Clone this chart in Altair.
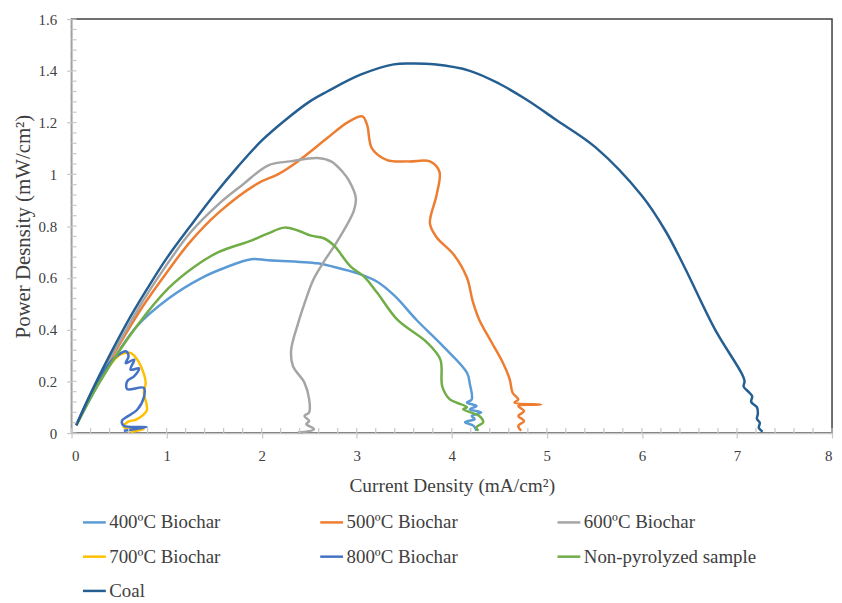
import altair as alt
import pandas as pd

# ---------------- data ----------------
series_names = ["400ºC Biochar", "500ºC Biochar", "600ºC Biochar",
                "700ºC Biochar", "800ºC Biochar", "Non-pyrolyzed sample", "Coal"]
series_colors = ["#5B9BD5", "#ED7D31", "#A5A5A5", "#FFC000", "#4472C4", "#70AD47", "#255E91"]

b400_x = [0.05, 0.3, 0.68, 1.02, 1.37, 1.62, 1.89, 2.07, 2.59, 2.76, 3.01, 3.22, 3.4, 3.63,
          3.91, 4.16, 4.19, 4.21, 4.16, 4.26, 4.19, 4.31, 4.21, 4.24, 4.14, 4.23, 4.26]
b400_y = [0.03, 0.2, 0.41, 0.52, 0.6, 0.64, 0.672, 0.668, 0.656, 0.642, 0.617, 0.584, 0.53, 0.437,
          0.335, 0.233, 0.19, 0.13, 0.118, 0.105, 0.092, 0.08, 0.066, 0.054, 0.042, 0.028, 0.009]

b500_x = [0.05, 0.25, 0.5, 0.75, 1.0, 1.25, 1.55, 1.96, 2.17, 2.38, 2.69, 2.9, 3.06, 3.11, 3.16, 3.32,
          3.55, 3.77, 3.87, 3.84, 3.77, 3.84, 4.02, 4.16, 4.22, 4.29, 4.42, 4.54, 4.61, 4.64, 4.7,
          4.66, 4.94, 4.7, 4.76, 4.7, 4.76, 4.7, 4.73]
b500_y = [0.03, 0.18, 0.34, 0.49, 0.62, 0.74, 0.853, 0.965, 1.0, 1.05, 1.14, 1.2, 1.224, 1.19, 1.1,
          1.055, 1.05, 1.05, 1.01, 0.92, 0.81, 0.757, 0.69, 0.6, 0.51, 0.437, 0.35, 0.27, 0.207,
          0.156, 0.13, 0.118, 0.11, 0.105, 0.085, 0.066, 0.047, 0.028, 0.009]

b600_x = [0.05, 0.25, 0.5, 0.75, 1.0, 1.25, 1.55, 1.8, 2.07, 2.3, 2.59, 2.73, 2.85, 2.92, 2.99, 2.97,
          2.8, 2.65, 2.54, 2.45, 2.38, 2.31, 2.33, 2.45, 2.5, 2.5, 2.45, 2.5, 2.47, 2.55, 2.38]
b600_y = [0.03, 0.185, 0.35, 0.51, 0.65, 0.775, 0.886, 0.96, 1.035, 1.05, 1.063, 1.05, 1.01, 0.975,
          0.91, 0.86, 0.744, 0.66, 0.59, 0.5, 0.42, 0.32, 0.258, 0.195, 0.13, 0.08, 0.066, 0.047,
          0.035, 0.015, 0.002]

b700_x = [0.05, 0.2, 0.33, 0.42, 0.52, 0.62, 0.68, 0.73, 0.78, 0.76, 0.79, 0.79, 0.69, 0.585,
          0.55, 0.76, 0.62]
b700_y = [0.03, 0.14, 0.22, 0.27, 0.305, 0.31, 0.29, 0.258, 0.195, 0.157, 0.11, 0.086, 0.054, 0.042,
          0.023, 0.015, 0.004]

b800_x = [0.05, 0.2, 0.35, 0.45, 0.57, 0.6, 0.57, 0.66, 0.62, 0.71, 0.66, 0.585, 0.585, 0.76, 0.76,
          0.69, 0.57, 0.53, 0.55, 0.79, 0.55]
b800_y = [0.03, 0.15, 0.245, 0.29, 0.316, 0.297, 0.27, 0.284, 0.245, 0.25, 0.22, 0.2, 0.17, 0.175,
          0.137, 0.09, 0.06, 0.047, 0.028, 0.023, 0.009]

np_x = [0.05, 0.3, 0.68, 1.02, 1.3, 1.55, 1.89, 2.07, 2.24, 2.38, 2.52, 2.66, 2.76, 2.94, 3.08, 3.22,
        3.43, 3.74, 3.88, 3.9, 3.98, 4.05, 4.16, 4.12, 4.29, 4.33, 4.26, 4.28]
np_y = [0.03, 0.2, 0.41, 0.56, 0.645, 0.7, 0.744, 0.772, 0.794, 0.783, 0.763, 0.752, 0.725, 0.642,
        0.604, 0.54, 0.437, 0.35, 0.284, 0.18, 0.13, 0.118, 0.1, 0.092, 0.066, 0.042, 0.023, 0.009]

coal_x = [0.05, 0.25, 0.45, 0.62, 0.8, 1.0, 1.25, 1.5, 1.75, 2.0, 2.25, 2.5, 2.69, 3.04, 3.39, 3.6,
          3.81, 4.19, 4.5, 4.78, 5.1, 5.51, 6.0, 6.25, 6.45, 6.77, 7.05, 7.08, 7.07, 7.12, 7.16, 7.15,
          7.21, 7.22, 7.21, 7.24, 7.23, 7.27]
coal_y = [0.03, 0.19, 0.335, 0.45, 0.56, 0.675, 0.8, 0.92, 1.03, 1.13, 1.21, 1.28, 1.32, 1.385,
          1.425, 1.428, 1.425, 1.40, 1.35, 1.29, 1.21, 1.105, 0.917, 0.78, 0.64, 0.40, 0.23, 0.2, 0.18,
          0.16, 0.143, 0.12, 0.10, 0.075, 0.055, 0.04, 0.02, 0.005]

series_x = [b400_x, b500_x, b600_x, b700_x, b800_x, np_x, coal_x]
series_y = [b400_y, b500_y, b600_y, b700_y, b800_y, np_y, coal_y]

rows = []
for k, (name, xs, ys) in enumerate(zip(series_names, series_x, series_y)):
    for i, (xv, yv) in enumerate(zip(xs, ys)):
        rows.append({"series": name, "sid": k, "x": xv, "y": yv, "order": i})
df = pd.DataFrame(rows)

y_minor = [round(i * 0.04, 2) for i in range(0, 41)]
x_minor = [round(i * 0.2, 1) for i in range(0, 41)]

W, H = 766, 417
FONT = "Liberation Serif"
TXT = "#404040"

color_scale = alt.Scale(domain=series_names, range=series_colors)

lines = alt.Chart(df).mark_line(interpolate="catmull-rom", strokeWidth=2.5).encode(
    x=alt.X("x:Q", scale=alt.Scale(domain=[0, 8], nice=False),
            axis=alt.Axis(title="Current Density (mA/cm²)", values=list(range(0, 9)), format="d",
                          titleFontSize=19.5)),
    y=alt.Y("y:Q", scale=alt.Scale(domain=[0, 1.6], nice=False),
            axis=alt.Axis(title="Power Desnsity (mW/cm²)",
                          values=[0, 0.2, 0.4, 0.6, 0.8, 1.0, 1.2, 1.4, 1.6], format="~g",
                          titleFontSize=21)),
    color=alt.Color("series:N", scale=color_scale,
                    legend=alt.Legend(title=None, orient="none", legendX=10, legendY=494,
                                      direction="horizontal",
                                      columns=3, columnPadding=95, rowPadding=11.5,
                                      symbolType="stroke", symbolSize=529, symbolStrokeWidth=2.5,
                                      labelOffset=2, labelLimit=300)),
    detail="sid:N",
    order="order:Q",
)

ytick_df = pd.DataFrame({"v": y_minor})
xtick_df = pd.DataFrame({"v": x_minor})

yticks = alt.Chart(ytick_df).mark_rule(color="#C8C8C8", strokeWidth=1.2).encode(
    y="v:Q", x=alt.value(0), x2=alt.value(5))
xticks = alt.Chart(xtick_df).mark_rule(color="#C8C8C8", strokeWidth=1.2).encode(
    x="v:Q", y=alt.value(H), y2=alt.value(H - 5))

chart = alt.layer(lines, yticks, xticks).properties(
    width=W, height=H,
    padding={"left": 64, "top": 9, "right": 2, "bottom": 168},
    autosize=alt.AutoSizeParams(type="none"),
).configure(
    background="white"
).configure_view(
    stroke="#404040", strokeWidth=1.5
).configure_axis(
    grid=False, domainColor="#C8C8C8", domainWidth=1.5,
    tickColor="#C8C8C8", tickSize=5, tickWidth=1.2,
    labelFont=FONT, labelFontSize=15, labelColor=TXT,
    titleFont=FONT, titleFontWeight="normal", titleColor=TXT,
).configure_axisX(
    labelPadding=11, titlePadding=13
).configure_axisY(
    labelPadding=10, titlePadding=5
).configure_legend(
    labelFont=FONT, labelFontSize=19, labelColor=TXT
)

chart.save("out.html", embed_options={"renderer": "svg", "actions": False})
